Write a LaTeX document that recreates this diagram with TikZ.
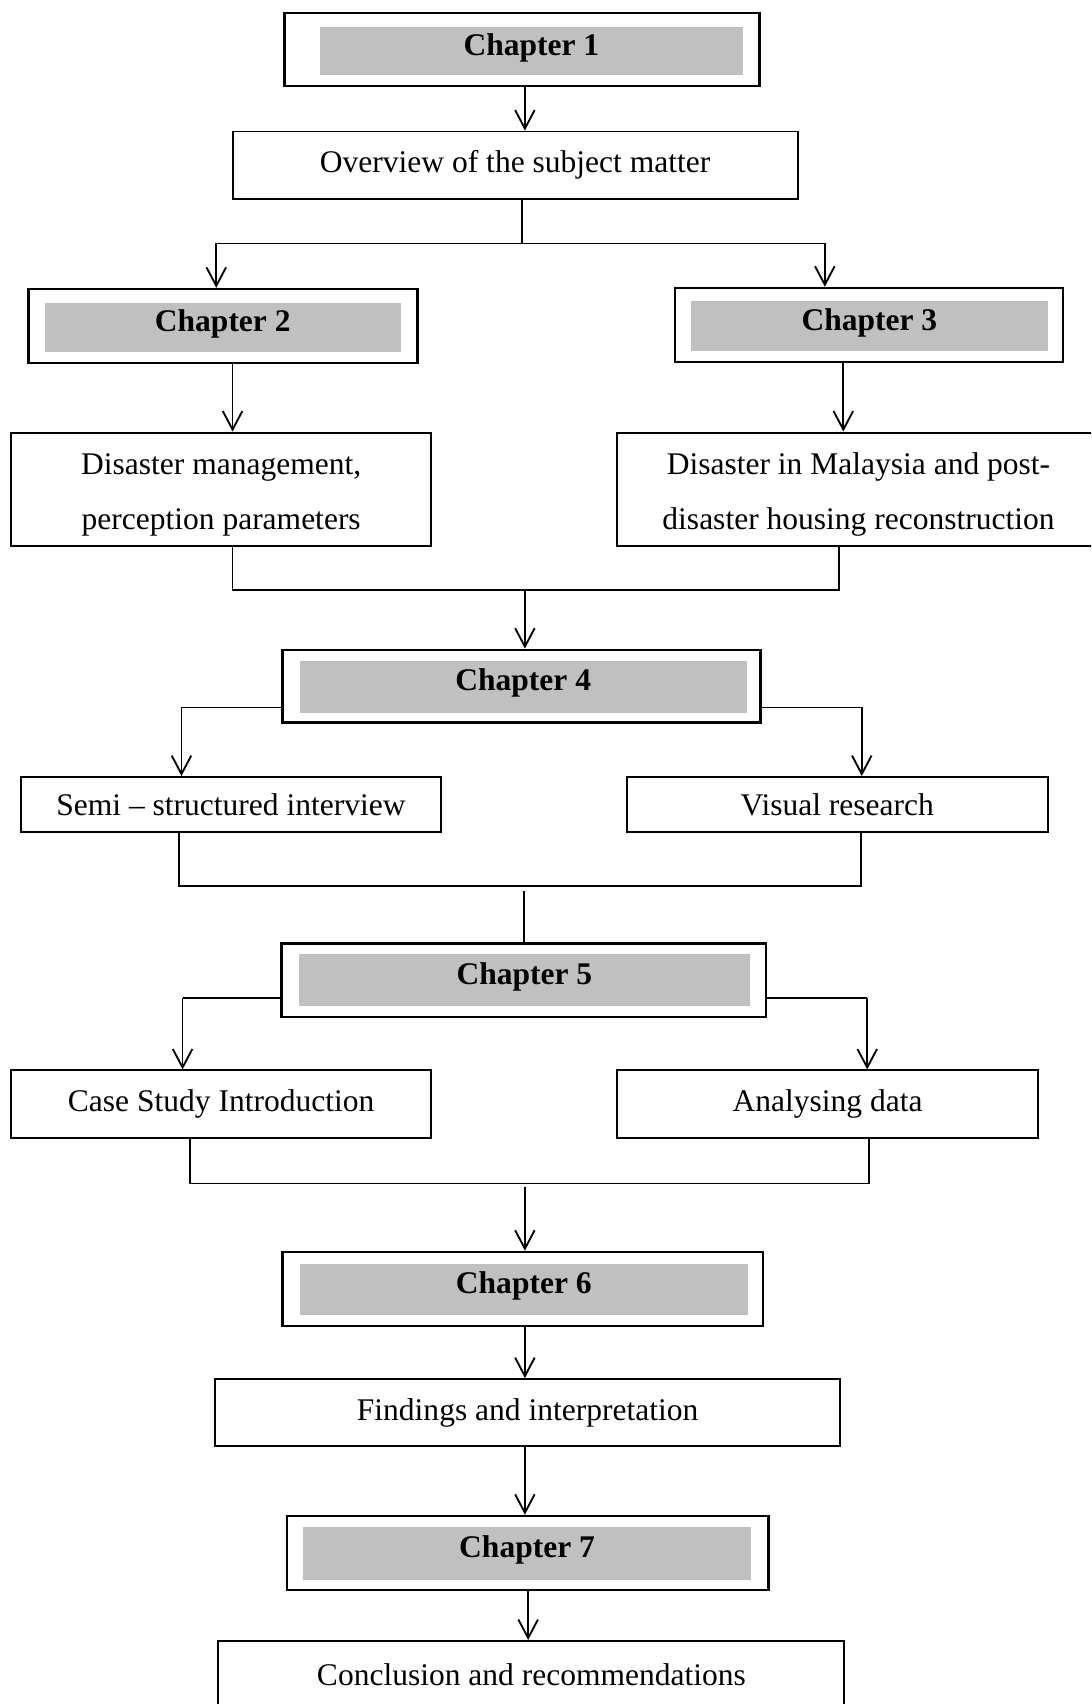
\documentclass[tikz,border=0pt]{standalone}
\usepackage{fontspec}
\setmainfont{Liberation Serif}
\usetikzlibrary{arrows.meta}
\definecolor{chgrey}{HTML}{C0C0C0}
\begin{document}
\begin{tikzpicture}[x=1pt,y=-1pt,
  font=\fontsize{29}{51}\selectfont,
  wbox/.style={draw, line width=1.8pt, inner sep=0pt, align=center},
  chout/.style={draw, line width=2.3pt, inner sep=0pt},
  chin/.style={fill=chgrey, inner sep=0pt, font=\fontsize{29}{51}\selectfont\bfseries, text height=19.6pt, text depth=12pt},
  link/.style={line width=1.7pt},
  arr/.style={link, -{Straight Barb[length=17pt,width=18pt]}}
]
\useasboundingbox (0,0) rectangle (1004,1568);
\fill[white] (0,0) rectangle (1004,1568);
\clip (0,0) rectangle (1004,1568);

% Chapter 1
\node[chout, minimum width=437pt, minimum height=67pt] (c1) at (480.5,45.5) {};
\node[chin, minimum width=390pt, minimum height=44pt] (c1g) at (489,47) {Chapter 1};
\node[wbox, minimum width=520pt, minimum height=62pt] (ov) at (474,152) {Overview of the subject matter};

% Chapter 2 and 3
\node[chout, minimum width=358pt, minimum height=68pt] (c2) at (205,300) {};
\node[chin, minimum width=328pt, minimum height=45pt] (c2g) at (205,301.5) {Chapter 2};
\node[chout, minimum width=357pt, minimum height=68pt] (c3) at (799.5,299) {};
\node[chin, minimum width=328pt, minimum height=46pt] (c3g) at (800,300) {Chapter 3};

\node[wbox, minimum width=387pt, minimum height=104pt] (dm) at (203.5,450) {\rule{0pt}{30pt}Disaster management,\\perception parameters};
\node[wbox, minimum width=444pt, minimum height=104pt] (dim) at (790,450) {\rule{0pt}{30pt}Disaster in Malaysia and post-\\disaster housing reconstruction};

% Chapter 4
\node[chout, minimum width=440pt, minimum height=67pt] (c4) at (480,631.5) {};
\node[chin, minimum width=411pt, minimum height=48pt] (c4g) at (481.5,632) {Chapter 4};
\node[wbox, minimum width=387pt, minimum height=51pt] (semi) at (212.5,740.5) {Semi -- structured interview};
\node[wbox, minimum width=387pt, minimum height=51pt] (vis) at (770.5,740.5) {Visual research};

% Chapter 5
\node[chout, minimum width=446pt, minimum height=68pt] (c5) at (482,902) {};
\node[chin, minimum width=415pt, minimum height=48pt] (c5g) at (482.5,902) {Chapter 5};
\node[wbox, minimum width=387pt, minimum height=62pt] (cs) at (203.5,1016) {Case Study Introduction};
\node[wbox, minimum width=387pt, minimum height=62pt] (an) at (761.5,1016) {Analysing data};

% Chapter 6
\node[chout, minimum width=442pt, minimum height=68pt] (c6) at (481,1186) {};
\node[chin, minimum width=412pt, minimum height=47pt] (c6g) at (482,1186.5) {Chapter 6};
\node[wbox, minimum width=575pt, minimum height=62pt] (fi) at (485.5,1300) {Findings and interpretation};

% Chapter 7
\node[chout, minimum width=443pt, minimum height=68pt] (c7) at (485.5,1429) {};
\node[chin, minimum width=412pt, minimum height=49pt] (c7g) at (485,1429.5) {Chapter 7};
\node[wbox, minimum width=576pt, minimum height=62pt] (co) at (489,1541) {Conclusion and recommendations};

% column / junction coordinates
\coordinate (x483) at (483,0);
\coordinate (x486) at (486,0);
\coordinate (j1) at (480,224);
\coordinate (l1) at (199,224);
\coordinate (r1) at (759,224);
\coordinate (x214) at (214,0);
\coordinate (x776) at (776,0);
\coordinate (jl2) at (214,543);
\coordinate (jr2) at (772,543);
\coordinate (jm2) at (483,543);
\coordinate (l4) at (167,651);
\coordinate (r4) at (793,651);
\coordinate (jl3) at (165,815);
\coordinate (jr3) at (792,815);
\coordinate (jm3) at (482,820);
\coordinate (l5) at (168,918);
\coordinate (r5) at (798,918);
\coordinate (jl4) at (175,1089);
\coordinate (jr4) at (800,1089);
\coordinate (jm4) at (483,1092);

% connectors
\draw[arr] (c1.south -| x483) -- (ov.north -| x483);
\draw[link] (ov.south -| j1) -- (j1);
\draw[link] (l1) -- (r1);
\draw[arr] (l1) -- (c2.north -| l1);
\draw[arr] (r1) -- (c3.north -| r1);
\draw[arr] (c2.south -| x214) -- (dm.north -| x214);
\draw[arr] (c3.south -| x776) -- (dim.north -| x776);
\draw[link] (dm.south -| jl2) -- (jl2) -- (jr2) -- (dim.south -| jr2);
\draw[arr] (jm2) -- (c4.north -| jm2);
\draw[link] (c4.west |- l4) -- (l4);
\draw[arr] (l4) -- (semi.north -| l4);
\draw[link] (c4.east |- r4) -- (r4);
\draw[arr] (r4) -- (vis.north -| r4);
\draw[link] (semi.south -| jl3) -- (jl3) -- (jr3) -- (vis.south -| jr3);
\draw[link] (jm3) -- (c5.north -| jm3);
\draw[link] (c5.west |- l5) -- (l5);
\draw[arr] (l5) -- (cs.north -| l5);
\draw[link] (c5.east |- r5) -- (r5);
\draw[arr] (r5) -- (an.north -| r5);
\draw[link] (cs.south -| jl4) -- (jl4) -- (jr4) -- (an.south -| jr4);
\draw[arr] (jm4) -- (c6.north -| jm4);
\draw[arr] (c6.south -| x483) -- (fi.north -| x483);
\draw[arr] (fi.south -| x483) -- (c7.north -| x483);
\draw[arr] (c7.south -| x486) -- (co.north -| x486);
\end{tikzpicture}
\end{document}
